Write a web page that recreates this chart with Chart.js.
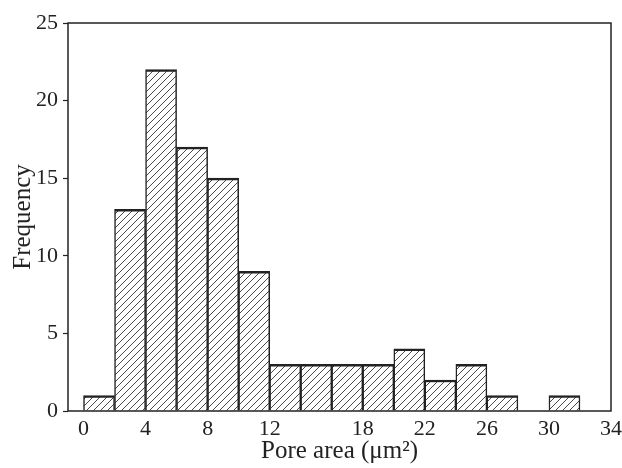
<!DOCTYPE html>
<html>
<head>
<meta charset="utf-8">
<script src="https://cdn.jsdelivr.net/npm/chart.js@4.4.1/dist/chart.umd.min.js"></script>
<style>
  html, body { margin: 0; padding: 0; background: #fff; }
  #wrap { width: 622px; height: 468px; }
</style>
</head>
<body>
<div id="wrap"><canvas id="myChart" width="622" height="468"></canvas></div>
<script>
// Histogram bins (left edges, width 2) and counts
const binStarts = [0, 2, 4, 6, 8, 10, 12, 14, 16, 18, 20, 22, 24, 26, 28, 30];
const binWidth = 2;
const frequency = [1, 13, 22, 17, 15, 9, 3, 3, 3, 3, 4, 2, 3, 1, 0, 1];
const xTickValues = [0, 4, 8, 12, 18, 22, 26, 30, 34];
const yTickValues = [0, 5, 10, 15, 20, 25];

const ink = '#222';
const serif = "'Liberation Serif', 'DejaVu Serif', serif";

// diagonal hatch fill ( /// )
function makeHatch() {
    const size = 7;
    const c = document.createElement('canvas');
    c.width = size;
    c.height = size;
    const g = c.getContext('2d');
    g.fillStyle = '#fff';
    g.fillRect(0, 0, size, size);
    g.strokeStyle = '#333';
    g.lineWidth = 0.9;
    g.beginPath();
    g.moveTo(-1, size + 1);
    g.lineTo(size + 1, -1);
    g.moveTo(-1, 1);
    g.lineTo(1, -1);
    g.moveTo(size - 1, size + 1);
    g.lineTo(size + 1, size - 1);
    g.stroke();
    return g.createPattern(c, 'repeat');
}

// frame around the plot area
const frame = {
    id: 'frame',
    afterDraw(chart) {
        const a = chart.chartArea;
        const ctx = chart.ctx;
        ctx.save();
        ctx.strokeStyle = ink;
        ctx.lineWidth = 1.5;
        ctx.strokeRect(a.left, a.top, a.right - a.left, a.bottom - a.top);
        ctx.restore();
    }
};

const ctx = document.getElementById('myChart').getContext('2d');
new Chart(ctx, {
    type: 'bar',
    data: {
        datasets: [{
            data: binStarts.map((s, i) => ({ x: s + binWidth / 2, y: frequency[i] })),
            backgroundColor: makeHatch(),
            borderColor: ink,
            borderWidth: { top: 2.5, left: 1.5, right: 1.5, bottom: 0 },
            borderSkipped: 'start',
            barPercentage: 1,
            categoryPercentage: 1
        }]
    },
    options: {
        responsive: false,
        animation: false,
        layout: { padding: { top: 23, right: 11, left: 0, bottom: 0 } },
        plugins: { legend: { display: false }, tooltip: { enabled: false } },
        scales: {
            x: {
                type: 'linear',
                offset: false,
                min: -1,
                max: 34,
                afterBuildTicks: scale => { scale.ticks = xTickValues.map(v => ({ value: v })); },
                afterFit: scale => {
                    scale.height = 57;
                    scale.paddingLeft = 0;
                    scale.paddingRight = 0;
                },
                grid: { display: false, drawTicks: false },
                border: { display: false },
                ticks: { color: ink, padding: 5, maxRotation: 0, autoSkip: false, font: { family: serif, size: 22 } },
                title: {
                    display: true,
                    text: 'Pore area (μm²)',
                    color: ink,
                    padding: { top: 0, bottom: 2 },
                    font: { family: serif, size: 25 }
                }
            },
            y: {
                min: 0,
                max: 25,
                afterBuildTicks: scale => { scale.ticks = yTickValues.map(v => ({ value: v })); },
                afterFit: scale => {
                    scale.width = 68;
                    scale.paddingTop = 0;
                    scale.paddingBottom = 0;
                },
                grid: { drawOnChartArea: false, drawTicks: true, tickLength: 5, color: ink, tickWidth: 1.2 },
                border: { display: false },
                ticks: { color: ink, padding: 5, font: { family: serif, size: 22 } },
                title: {
                    display: true,
                    text: 'Frequency',
                    color: ink,
                    padding: { top: 8, bottom: 0 },
                    font: { family: serif, size: 25 }
                }
            }
        }
    },
    plugins: [frame]
});
</script>
</body>
</html>
